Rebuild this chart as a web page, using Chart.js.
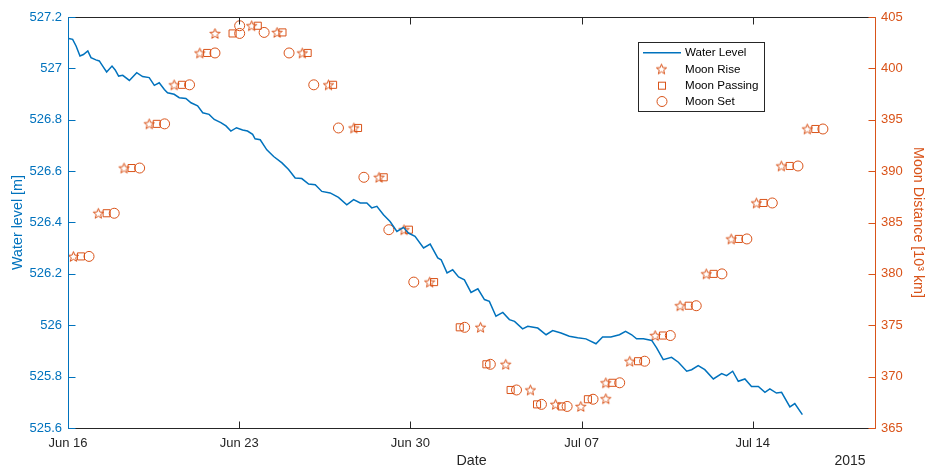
<!DOCTYPE html>
<html>
<head>
<meta charset="utf-8">
<title>Water level and moon distance</title>
<script src="https://cdn.jsdelivr.net/npm/chart.js@4.4.0/dist/chart.umd.min.js"></script>
<style>
  html, body { margin: 0; padding: 0; background: #fff; }
  #wrap { width: 927px; height: 471px; }
</style>
</head>
<body>
<div id="wrap"><canvas id="tideChart" width="927" height="471"></canvas></div>
<script>
// x values are days after Jun 16 2015 00:00
const dateTicks = ['Jun 16', 'Jun 23', 'Jun 30', 'Jul 07', 'Jul 14'];
const yearLabel = '2015';

// water level [m]
const levelDay = [0.03, 0.19, 0.33, 0.49, 0.63, 0.81, 0.94, 1.14, 1.28, 1.42, 1.58, 1.80, 1.93, 2.07, 2.24,
  2.51, 2.81, 3.05, 3.32, 3.53, 3.73, 3.94, 4.07, 4.34, 4.55, 4.82, 5.03, 5.30, 5.51, 5.77, 5.98, 6.25, 6.46,
  6.66, 6.89, 7.14, 7.34, 7.55, 7.65, 7.86, 8.13, 8.41, 8.75, 9.02, 9.29, 9.56, 9.84, 10.11, 10.38, 10.72,
  11.06, 11.40, 11.68, 11.95, 12.22, 12.42, 12.63, 12.90, 13.17, 13.45, 13.72, 13.92, 14.19, 14.54, 14.81,
  15.12, 15.26, 15.50, 15.73, 15.97, 16.21, 16.48, 16.76, 17.03, 17.23, 17.50, 17.78, 18.05, 18.26, 18.59,
  18.80, 19.21, 19.55, 19.82, 20.16, 20.50, 20.84, 21.18, 21.59, 21.86, 22.20, 22.55, 22.80, 23.05, 23.25,
  23.53, 23.87, 24.07, 24.34, 24.68, 24.96, 25.30, 25.50, 25.77, 26.04, 26.39, 26.73, 26.93, 27.18, 27.41,
  27.68, 27.95, 28.23, 28.50, 28.70, 28.97, 29.18, 29.52, 29.72, 30.03];
const levelValue = [527.116, 527.113, 527.087, 527.048, 527.054, 527.068, 527.042, 527.033, 527.029, 527.009,
  526.986, 527.009, 526.994, 526.970, 526.973, 526.953, 526.983, 526.968, 526.964, 526.934, 526.944, 526.918,
  526.905, 526.899, 526.886, 526.883, 526.866, 526.854, 526.827, 526.821, 526.801, 526.789, 526.776, 526.756,
  526.769, 526.760, 526.756, 526.743, 526.726, 526.722, 526.683, 526.657, 526.632, 526.606, 526.573, 526.571,
  526.550, 526.547, 526.521, 526.515, 526.498, 526.469, 526.489, 526.476, 526.476, 526.457, 526.463, 526.430,
  526.404, 526.365, 526.381, 526.359, 526.346, 526.301, 526.316, 526.262, 526.255, 526.204, 526.216, 526.188,
  526.177, 526.128, 526.142, 526.100, 526.093, 526.035, 526.050, 526.022, 526.015, 525.986, 525.996, 525.989,
  525.963, 525.979, 525.970, 525.957, 525.951, 525.947, 525.928, 525.954, 525.954, 525.963, 525.976, 525.963,
  525.947, 525.947, 525.941, 525.912, 525.866, 525.875, 525.856, 525.821, 525.827, 525.843, 525.827, 525.791,
  525.812, 525.804, 525.821, 525.782, 525.791, 525.762, 525.762, 525.739, 525.752, 525.736, 525.739, 525.682,
  525.695, 525.652];

// moon distance [10^3 km] at moon rise / passing / set
const riseDay = [0.22, 1.24, 2.29, 3.32, 4.34, 5.39, 6.01, 7.51, 8.55, 9.58, 10.65, 11.69, 12.72, 13.74, 14.79,
  16.87, 17.90, 18.91, 19.94, 20.97, 21.99, 21.99, 22.97, 24.01, 25.03, 26.10, 27.12, 28.15, 29.17, 30.23];
const riseDist = [381.7, 385.9, 390.3, 394.6, 398.4, 401.5, 403.4, 404.15, 403.5, 401.5, 398.4, 394.2, 389.4,
  384.3, 379.2, 374.8, 371.2, 368.7, 367.3, 367.1, 367.85, 369.4, 371.5, 374.0, 376.9, 380.0, 383.4, 386.9,
  390.5, 394.1];
const passDay = [0.53, 1.58, 2.60, 3.63, 4.66, 5.69, 6.73, 7.76, 8.77, 9.80, 10.84, 11.86, 12.91, 13.94, 14.97,
  16.02, 17.11, 18.10, 19.18, 20.18, 21.26, 22.26, 23.31, 24.33, 25.38, 26.40, 27.43, 28.44, 29.51, 30.56];
const passDist = [381.7, 385.9, 390.3, 394.6, 398.4, 401.5, 403.4, 404.15, 403.5, 401.5, 398.4, 394.2, 389.4,
  384.3, 379.2, 374.8, 371.2, 368.7, 367.3, 367.1, 367.8, 369.4, 371.5, 374.0, 376.9, 380.0, 383.4, 386.9,
  390.5, 394.1];
const setDay = [0.86, 1.89, 2.93, 3.95, 4.97, 6.01, 7.02, 7.02, 8.02, 9.04, 10.05, 11.06, 12.10, 13.12, 14.14,
  16.22, 17.27, 18.34, 19.36, 20.41, 21.47, 22.56, 23.58, 24.63, 25.69, 26.74, 27.76, 28.80, 29.85, 30.87];
const setDist = [381.7, 385.9, 390.3, 394.6, 398.4, 401.5, 403.4, 404.15, 403.5, 401.5, 398.4, 394.2, 389.4,
  384.3, 379.2, 374.8, 371.2, 368.7, 367.3, 367.1, 367.8, 369.4, 371.5, 374.0, 376.9, 380.0, 383.4, 386.9,
  390.5, 394.1];

const BLUE = '#0072BD';
const ORANGE = '#D95319';
const AXIS = '#262626';
const FONT = '"Liberation Sans", Arial, Helvetica, sans-serif';

Chart.defaults.font.family = FONT;

function pairs(xs, ys) {
  return xs.map((x, i) => ({ x: x, y: ys[i] }));
}

// pentagram marker like matlab's 'p'
function makeStar(color) {
  const c = document.createElement('canvas');
  c.width = 13; c.height = 13;
  const g = c.getContext('2d');
  g.strokeStyle = color;
  g.lineWidth = 1;
  g.beginPath();
  for (let i = 0; i < 10; i++) {
    const r = i % 2 ? 2.3 : 5.4;
    const a = -Math.PI / 2 + i * Math.PI / 5;
    const px = 6.5 + r * Math.cos(a), py = 7 + r * Math.sin(a);
    if (i === 0) g.moveTo(px, py); else g.lineTo(px, py);
  }
  g.closePath();
  g.stroke();
  return c;
}
const starImg = makeStar(ORANGE);

// ticks inside the box, box lines, legend and year label
const matlabAxes = {
  id: 'matlabAxes',
  afterDraw(chart) {
    const ctx = chart.ctx;
    const a = chart.chartArea;
    const sx = chart.scales.x, sy = chart.scales.y, sy1 = chart.scales.y1;
    const L = Math.round(a.left) + 0.5, R = Math.round(a.right) + 0.5;
    const T = Math.round(a.top) + 0.5, B = Math.round(a.bottom) + 0.5;
    const tl = 7;
    ctx.save();
    ctx.lineWidth = 1;

    ctx.strokeStyle = AXIS;
    ctx.beginPath();
    ctx.moveTo(L, T); ctx.lineTo(R, T);
    ctx.moveTo(L, B); ctx.lineTo(R, B);
    sx.ticks.forEach((t, i) => {
      const px = Math.round(sx.getPixelForTick(i)) + 0.5;
      ctx.moveTo(px, B); ctx.lineTo(px, B - tl);
      ctx.moveTo(px, T); ctx.lineTo(px, T + tl);
    });
    ctx.stroke();

    ctx.strokeStyle = BLUE;
    ctx.beginPath();
    ctx.moveTo(L, T); ctx.lineTo(L, B);
    sy.ticks.forEach((t, i) => {
      const py = Math.round(sy.getPixelForTick(i)) + 0.5;
      ctx.moveTo(L, py); ctx.lineTo(L + tl, py);
    });
    ctx.stroke();

    ctx.strokeStyle = ORANGE;
    ctx.beginPath();
    ctx.moveTo(R, T); ctx.lineTo(R, B);
    sy1.ticks.forEach((t, i) => {
      const py = Math.round(sy1.getPixelForTick(i)) + 0.5;
      ctx.moveTo(R, py); ctx.lineTo(R - tl, py);
    });
    ctx.stroke();

    // year under the date axis
    ctx.fillStyle = AXIS;
    ctx.font = '14px ' + FONT;
    ctx.textAlign = 'center';
    ctx.textBaseline = 'middle';
    ctx.fillText(yearLabel, 850, 461);

    // legend
    const lx = 638.5, ly = 42.5, lw = 126, lh = 69;
    ctx.fillStyle = '#fff';
    ctx.fillRect(lx, ly, lw, lh);
    ctx.strokeStyle = AXIS;
    ctx.strokeRect(lx, ly, lw, lh);
    const rows = [52.7, 69.5, 85.7, 101.5];
    const names = chart.data.datasets.map(d => d.label);
    ctx.font = '11.6px ' + FONT;
    ctx.textAlign = 'left';
    ctx.fillStyle = '#000';
    names.forEach((n, i) => ctx.fillText(n, 685, rows[i] + 0.5));
    ctx.strokeStyle = BLUE;
    ctx.lineWidth = 1.5;
    ctx.beginPath();
    ctx.moveTo(643, rows[0]); ctx.lineTo(681, rows[0]);
    ctx.stroke();
    ctx.lineWidth = 1;
    ctx.drawImage(starImg, 661.5 - 6.5, rows[1] - 7);
    ctx.strokeStyle = ORANGE;
    ctx.strokeRect(658.5, rows[2] - 3.5, 7, 7);
    ctx.beginPath();
    ctx.arc(662, rows[3], 5, 0, Math.PI * 2);
    ctx.stroke();
    ctx.restore();
  }
};

const tickFont = { family: FONT, size: 13 };
const titleFont = { family: FONT, size: 14.3 };

new Chart('tideChart', {
  type: 'line',
  data: {
    datasets: [{
      label: 'Water Level',
      data: pairs(levelDay, levelValue),
      yAxisID: 'y',
      borderColor: BLUE,
      borderWidth: 1.5,
      pointRadius: 0,
      tension: 0,
      fill: false
    }, {
      label: 'Moon Rise',
      data: pairs(riseDay, riseDist),
      yAxisID: 'y1',
      showLine: false,
      pointStyle: starImg,
      pointRadius: 5,
      borderColor: ORANGE,
      backgroundColor: 'rgba(0,0,0,0)'
    }, {
      label: 'Moon Passing',
      data: pairs(passDay, passDist),
      yAxisID: 'y1',
      showLine: false,
      pointStyle: 'rect',
      pointRadius: 5,
      pointBorderWidth: 1,
      borderColor: ORANGE,
      backgroundColor: 'rgba(0,0,0,0)'
    }, {
      label: 'Moon Set',
      data: pairs(setDay, setDist),
      yAxisID: 'y1',
      showLine: false,
      pointStyle: 'circle',
      pointRadius: 5,
      pointBorderWidth: 1,
      borderColor: ORANGE,
      backgroundColor: 'rgba(0,0,0,0)'
    }]
  },
  options: {
    responsive: false,
    animation: false,
    layout: { padding: { top: 17, left: 0, right: 0, bottom: 0 } },
    plugins: { legend: { display: false }, tooltip: { enabled: false } },
    scales: {
      x: {
        type: 'linear',
        position: 'bottom',
        min: 0,
        max: 33,
        grid: { display: false, drawTicks: false },
        border: { display: false },
        ticks: {
          stepSize: 7,
          includeBounds: false,
          autoSkip: false,
          maxRotation: 0,
          padding: 8,
          color: AXIS,
          font: tickFont,
          callback: v => dateTicks[Math.round(v / 7)]
        },
        title: { display: true, text: 'Date', color: AXIS, font: titleFont, padding: { top: 0, bottom: 1 } },
        afterFit: s => { s.height = 43; }
      },
      y: {
        position: 'left',
        min: 525.6,
        max: 527.2,
        grid: { display: false, drawTicks: false },
        border: { display: false },
        ticks: {
          stepSize: 0.2,
          padding: 6,
          color: BLUE,
          font: tickFont,
          callback: v => String(+v.toFixed(1))
        },
        title: { display: true, text: 'Water level [m]', color: BLUE, font: titleFont, padding: { top: 9, bottom: 0 } },
        afterFit: s => { s.width = 68; }
      },
      y1: {
        position: 'right',
        min: 365,
        max: 405,
        grid: { display: false, drawTicks: false },
        border: { display: false },
        ticks: { stepSize: 5, padding: 6, color: ORANGE, font: tickFont },
        title: { display: true, text: 'Moon Distance [10³ km]', color: ORANGE, font: titleFont, padding: { top: 0, bottom: 0 } },
        afterFit: s => { s.width = 52; }
      }
    }
  },
  plugins: [matlabAxes]
});
</script>
</body>
</html>
